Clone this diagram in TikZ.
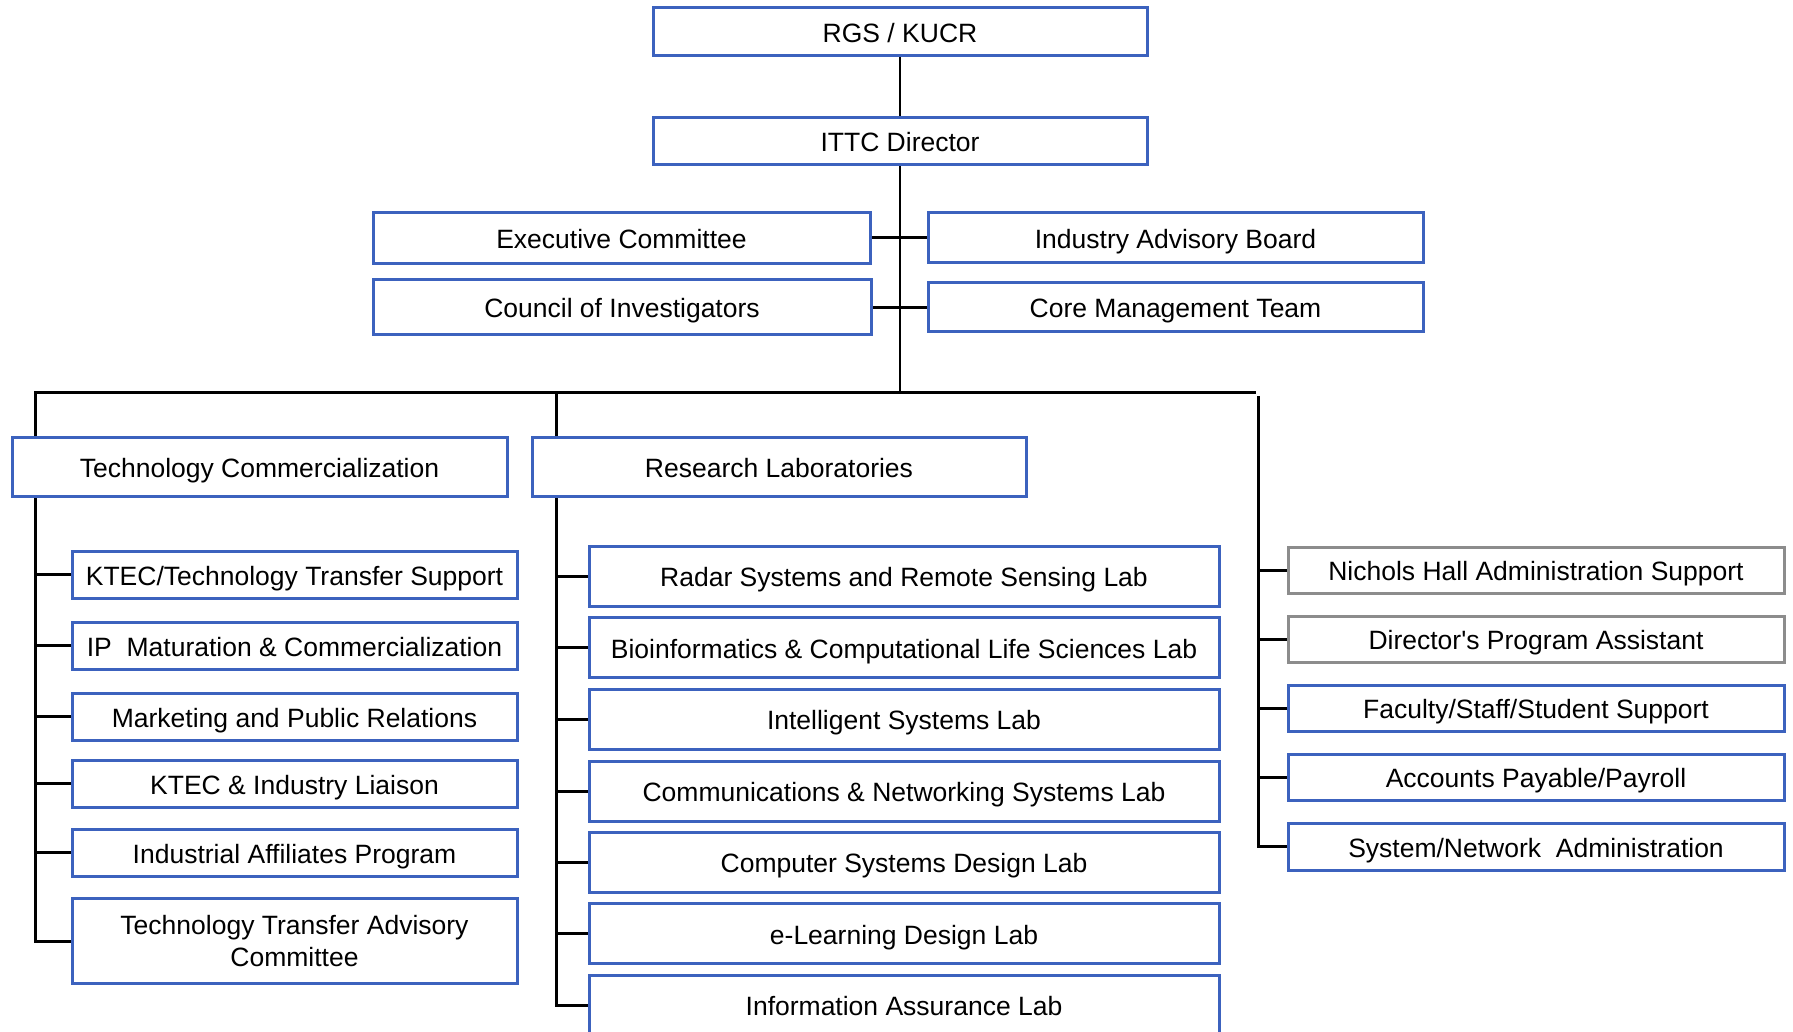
\documentclass[tikz,border=0pt]{standalone}
\usepackage{fontspec}
\setmainfont{Liberation Sans}
\usepackage{tikz}
\usetikzlibrary{backgrounds}
\definecolor{boxblue}{RGB}{60,98,190}
\definecolor{boxgray}{RGB}{140,140,140}

\begin{document}
\begin{tikzpicture}[x=1pt, y=-1pt,
  box/.style={draw=boxblue, line width=3pt, fill=white, inner sep=0pt,
              font=\fontsize{26.5}{32}\selectfont, align=center},
  unit/.style={box, text height=22pt, text depth=1pt},
  staff/.style={unit, draw=boxgray},
  link/.style={black, line width=3pt}]

\useasboundingbox (0,0) rectangle (1793,1032);
\clip (0,0) rectangle (1793,1032);

% Top of the chart
\node[unit, minimum width=494pt, minimum height=48pt] (rgs) at (900,32) {RGS / KUCR};
\node[unit, minimum width=494pt, minimum height=47pt] (ittc) at (900,141.5) {ITTC Director};

% Committees beside the spine
\node[unit, minimum width=497pt, minimum height=51pt] (exec) at (621.5,238) {Executive Committee};
\node[unit, minimum width=495pt, minimum height=50pt] (iab) at (1175.5,238) {Industry Advisory Board};
\node[unit, minimum width=498pt, minimum height=54pt] (coi) at (622,307) {Council of Investigators};
\node[unit, minimum width=495pt, minimum height=48pt] (cmt) at (1175.5,307) {Core Management Team};

% Bus below the director
\coordinate (busL) at (35,392);
\coordinate (busM) at (900,392);
\coordinate (busR) at (1256,392);
\coordinate (spineM) at (556,392);
\coordinate (spineR) at (1258,396);

% Two main branches
\node[unit, minimum width=495pt, minimum height=59pt] (tc) at (259.5,466.5) {Technology Commercialization};
\node[unit, minimum width=494pt, minimum height=59pt] (rl) at (779,466.5) {Research Laboratories};

% Technology Commercialization units
\node[unit, minimum width=445pt, minimum height=47pt] (ktec) at (294.5,574.5) {KTEC/Technology Transfer Support};
\node[unit, minimum width=445pt, minimum height=47pt] (ipm) at (294.5,645.5) {IP~~Maturation \& Commercialization};
\node[unit, minimum width=445pt, minimum height=47pt] (mpr) at (294.5,716.5) {Marketing and Public Relations};
\node[unit, minimum width=445pt, minimum height=47pt] (kil) at (294.5,783.5) {KTEC \& Industry Liaison};
\node[unit, minimum width=445pt, minimum height=47pt] (iap) at (294.5,852.5) {Industrial Affiliates Program};
\node[box, minimum width=445pt, minimum height=85pt] (ttac) at (294.5,941) {Technology Transfer Advisory\\Committee};

% Research labs
\node[unit, minimum width=630pt, minimum height=60pt] (radar) at (904,576) {Radar Systems and Remote Sensing Lab};
\node[unit, minimum width=630pt, minimum height=60pt] (bio) at (904,647.5) {Bioinformatics \& Computational Life Sciences Lab};
\node[unit, minimum width=630pt, minimum height=60pt] (isl) at (904,719) {Intelligent Systems Lab};
\node[unit, minimum width=630pt, minimum height=60pt] (cns) at (904,791) {Communications \& Networking Systems Lab};
\node[unit, minimum width=630pt, minimum height=60pt] (csd) at (904,862) {Computer Systems Design Lab};
\node[unit, minimum width=630pt, minimum height=60pt] (eld) at (904,933.5) {e-Learning Design Lab};
\node[unit, minimum width=630pt, minimum height=60pt] (ial) at (904,1005) {Information Assurance Lab};

% Administration and support
\node[staff, minimum width=496pt, minimum height=46pt] (nhas) at (1536,570) {Nichols Hall Administration Support};
\node[staff, minimum width=496pt, minimum height=46pt] (dpa) at (1536,639) {Director\textquotesingle s Program Assistant};
\node[unit, minimum width=496pt, minimum height=46pt] (fss) at (1536,708) {Faculty/Staff/Student Support};
\node[unit, minimum width=496pt, minimum height=46pt] (app) at (1536,777) {Accounts Payable/Payroll};
\node[unit, minimum width=496pt, minimum height=47pt] (sna) at (1536,846.5) {System/Network~~Administration};

% Connectors behind the boxes
\begin{scope}[on background layer]
\draw[link, line width=2.2pt] (rgs) -- (ittc);
\draw[link, line width=2.2pt] (ittc.south) -- (busM);
\draw[link] (exec.east) -- (iab.west);
\draw[link] (coi.east) -- (cmt.west);
\draw[link] (busR) -- (busL) |- (ttac.west);
\foreach \n in {ktec,ipm,mpr,kil,iap}
  \draw[link] (\n.west -| busL) -- (\n.west);
\draw[link] (spineM) |- (ial.west);
\foreach \n in {radar,bio,isl,cns,csd,eld}
  \draw[link] (\n.west -| spineM) -- (\n.west);
\draw[link] (spineR) |- (sna.west);
\foreach \n in {nhas,dpa,fss,app}
  \draw[link] (\n.west -| spineR) -- (\n.west);
\end{scope}

\end{tikzpicture}
\end{document}
